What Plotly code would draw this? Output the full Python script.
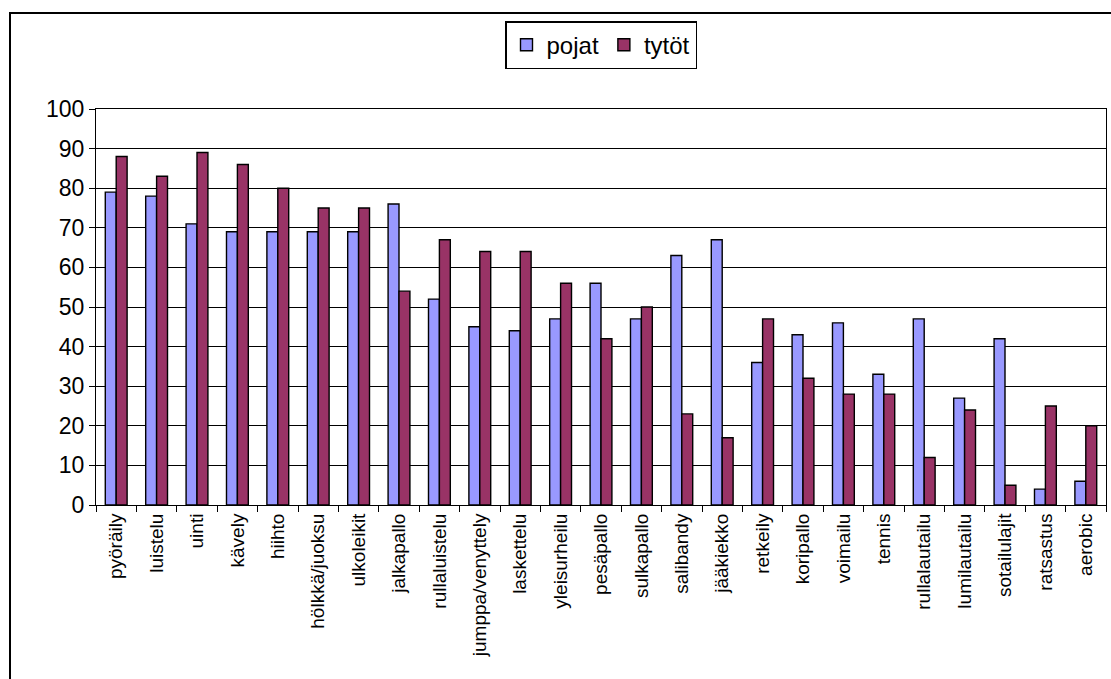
import plotly.graph_objects as go

# Liikuntalajit ja harrastusosuudet (%) sukupuolen mukaan
categories = [
    "pyöräily", "luistelu", "uinti", "kävely", "hiihto", "hölkkä/juoksu",
    "ulkoleikit", "jalkapallo", "rullaluistelu", "jumppa/venyttely",
    "laskettelu", "yleisurheilu", "pesäpallo", "sulkapallo", "salibandy",
    "jääkiekko", "retkeily", "koripallo", "voimailu", "tennis",
    "rullalautailu", "lumilautailu", "sotailulajit", "ratsastus", "aerobic",
]
pojat = [79, 78, 71, 69, 69, 69, 69, 76, 52, 45, 44, 47, 56, 47, 63,
         67, 36, 43, 46, 33, 47, 27, 42, 4, 6]
tytot = [88, 83, 89, 86, 80, 75, 75, 54, 67, 64, 64, 56, 42, 50, 23,
         17, 47, 32, 28, 28, 12, 24, 5, 25, 20]
y_ticks = [0, 10, 20, 30, 40, 50, 60, 70, 80, 90, 100]

FONT = "Liberation Sans, Arial, sans-serif"

fig = go.Figure()
fig.add_trace(go.Bar(
    x=categories, y=pojat, name="pojat",
    marker=dict(color="#9999FF", line=dict(color="black", width=1.4)),
))
fig.add_trace(go.Bar(
    x=categories, y=tytot, name="tytöt",
    marker=dict(color="#993366", line=dict(color="black", width=1.4)),
))

fig.update_layout(
    width=1111, height=679,
    margin=dict(l=96, r=5, t=109, b=174),
    paper_bgcolor="white", plot_bgcolor="white",
    barmode="group", bargap=0.46, bargroupgap=0,
    font=dict(family=FONT, color="black"),
    showlegend=True,
    legend=dict(
        orientation="h", x=0.5, xanchor="center", y=1.222, yanchor="top",
        font=dict(size=24, family=FONT), bgcolor="white",
        bordercolor="black", borderwidth=1.5,
        itemwidth=30, tracegroupgap=0,
    ),
    xaxis=dict(
        type="category", tickangle=-90, tickfont=dict(size=19, family=FONT),
        showline=True, linecolor="black", linewidth=1, mirror=True,
        ticks="outside", tickson="boundaries", ticklen=6, tickcolor="black",
        showgrid=False,
    ),
    yaxis=dict(
        range=[0, 100], tickvals=y_ticks, tickfont=dict(size=23, family=FONT),
        showline=True, linecolor="black", linewidth=1, mirror=True,
        ticks="outside", ticklen=6, tickcolor="black",
        showgrid=True, gridcolor="black", gridwidth=1, zeroline=False,
    ),
    shapes=[dict(
        type="rect", xref="paper", yref="paper",
        x0=(10 - 96) / 1010, x1=1.2, y0=-0.6, y1=(505 - 13) / 396,
        line=dict(color="black", width=2), fillcolor="rgba(0,0,0,0)",
        layer="below",
    )],
)

fig.write_html("out.html")
